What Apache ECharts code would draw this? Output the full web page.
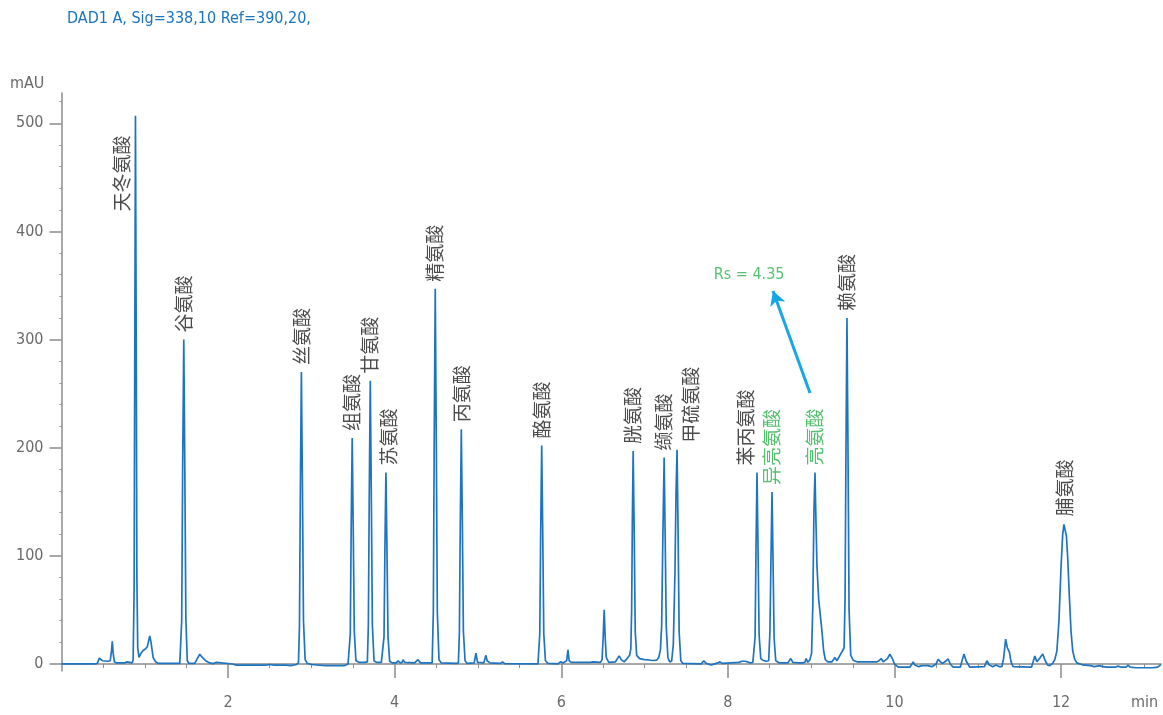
<!DOCTYPE html>
<html>
<head>
<meta charset="utf-8">
<script src="https://cdn.jsdelivr.net/npm/echarts@6.0.0/dist/echarts.min.js"></script>
<style>
  html, body { margin: 0; padding: 0; background: #ffffff; }
  #chart { width: 1163px; height: 715px; }
</style>
</head>
<body>
<div id="chart"></div>
<script>
// Detector trace: [retention time (min), absorbance (mAU)]
const signal = [
  [0.00, 0], [0.40, 0], [0.43, 0.5], [0.455, 5.5], [0.47, 4], [0.49, 3], [0.56, 2.5], [0.585, 3],
  [0.60, 12], [0.61, 21], [0.62, 10], [0.635, 2], [0.66, 1], [0.76, 1], [0.785, 2], [0.80, 1], [0.85, 1],
  [0.86, 4], [0.872, 70], [0.88, 300], [0.888, 507], [0.897, 300], [0.905, 80], [0.915, 15], [0.93, 6],
  [0.955, 10], [0.98, 12.5], [1.01, 14], [1.03, 16], [1.045, 21], [1.06, 26], [1.075, 20], [1.10, 6],
  [1.13, 2], [1.16, 0.5], [1.38, 0.5], [1.40, 2], [1.42, 0.5],
  [1.43, 0.5], [1.443, 40], [1.455, 185], [1.468, 300], [1.48, 185], [1.493, 42], [1.51, 3], [1.53, 0.5],
  [1.60, 0.5], [1.63, 5], [1.66, 9], [1.69, 6], [1.73, 3], [1.78, 1], [1.82, 0.3], [1.86, 1.5], [1.88, 0.3],
  [2.05, 0], [2.10, -1], [2.45, -1], [2.50, -0.5], [2.55, -1], [2.70, -1], [2.75, -1.5], [2.82, -0.5],
  [2.845, 1], [2.857, 36], [2.868, 165], [2.88, 270], [2.892, 168], [2.905, 40], [2.925, 4], [2.95, 0.5],
  [3.0, -0.5], [3.17, -1.5], [3.40, -1.5], [3.44, 0],
  [3.455, 1], [3.467, 28], [3.478, 128], [3.49, 209], [3.502, 128], [3.515, 30], [3.535, 3], [3.57, 1.5], [3.64, 1.5],
  [3.672, 2], [3.684, 36], [3.695, 160], [3.707, 262], [3.719, 160], [3.732, 36], [3.752, 3], [3.78, 1.5], [3.84, 1.5],
  [3.86, 2], [3.872, 25], [3.883, 108], [3.895, 177], [3.907, 108], [3.92, 25], [3.94, 2.5], [3.97, 1],
  [4.02, 1], [4.04, 3], [4.065, 1], [4.09, 1.5], [4.10, 4], [4.12, 1.5], [4.24, 1], [4.28, 4], [4.31, 1], [4.45, 1],
  [4.452, 2], [4.464, 48], [4.475, 212], [4.487, 347], [4.499, 212], [4.512, 48], [4.532, 4], [4.56, 1], [4.74, 0.5],
  [4.765, 1], [4.777, 30], [4.788, 133], [4.80, 217], [4.812, 133], [4.825, 30], [4.845, 3], [4.87, 0.5],
  [4.955, 1], [4.975, 10], [4.995, 1.5], [5.07, 1], [5.095, 8], [5.11, 3], [5.13, 2], [5.145, 1],
  [5.27, 0.5], [5.295, 2], [5.32, 0.3], [5.72, 0],
  [5.73, 1], [5.742, 28], [5.753, 124], [5.765, 202], [5.777, 124], [5.79, 28], [5.81, 3], [5.84, 0.5],
  [5.96, 0], [5.99, 2], [6.02, 1], [6.065, 3], [6.08, 13], [6.095, 3], [6.12, 1.5], [6.35, 1.5], [6.38, 2], [6.47, 1.5],
  [6.49, 4], [6.503, 25], [6.515, 50], [6.527, 25], [6.54, 6], [6.57, 1.5], [6.65, 2], [6.695, 7.5], [6.72, 4],
  [6.755, 2], [6.79, 5], [6.82, 8],
  [6.835, 14], [6.845, 50], [6.853, 130], [6.863, 197], [6.875, 125], [6.888, 30], [6.905, 8], [6.94, 5],
  [7.0, 4], [7.05, 3.7], [7.10, 3.2], [7.145, 3.5], [7.17, 6],
  [7.19, 13], [7.205, 35], [7.22, 120], [7.235, 191], [7.247, 120], [7.26, 35], [7.28, 6], [7.30, 2],
  [7.325, 2.5], [7.345, 18], [7.365, 85], [7.378, 160], [7.39, 198], [7.402, 125], [7.415, 30], [7.435, 3],
  [7.46, 0.5], [7.68, 0], [7.71, 3], [7.74, 0.5], [7.80, -1], [7.88, 1], [7.905, 2], [7.93, 0.5],
  [8.13, 1.5], [8.17, 2.5], [8.21, 2.5], [8.27, 1], [8.30, 1.5],
  [8.315, 2.5], [8.327, 25], [8.338, 108], [8.35, 177], [8.362, 108], [8.375, 27], [8.395, 5], [8.42, 3.5], [8.455, 2.5],
  [8.49, 3], [8.505, 30], [8.518, 100], [8.53, 159], [8.542, 97], [8.555, 24], [8.575, 3], [8.62, 1],
  [8.72, 1], [8.755, 5], [8.78, 1.5], [8.85, 1], [8.87, 2], [8.89, 1], [8.925, 1.5], [8.94, 5], [8.96, 1.5], [8.985, 4],
  [9.005, 10], [9.02, 55], [9.033, 140], [9.046, 177], [9.058, 130], [9.07, 90], [9.09, 60], [9.11, 45],
  [9.13, 30], [9.15, 12], [9.17, 4], [9.20, 2], [9.25, 2], [9.285, 6], [9.31, 3], [9.33, 2], [9.36, 10], [9.375, 12],
  [9.395, 15], [9.407, 60], [9.418, 200], [9.43, 320], [9.442, 200], [9.455, 50], [9.475, 8], [9.505, 3.5],
  [9.55, 2], [9.79, 2], [9.815, 3], [9.84, 5], [9.865, 2], [9.885, 1], [9.915, 5], [9.945, 9], [9.975, 5],
  [10.0, 0], [10.045, -3], [10.185, -3], [10.21, 0], [10.225, 2], [10.245, -1], [10.29, -2.5], [10.33, -1.5],
  [10.40, -1.5], [10.45, -2.5], [10.50, 0], [10.525, 4.3], [10.55, 2], [10.58, 0.5], [10.62, 3], [10.645, 4.6],
  [10.67, 0], [10.705, -3], [10.79, -3], [10.815, 4], [10.835, 9.2], [10.86, 3], [10.905, -3], [11.08, -2.5],
  [11.11, 3], [11.14, -1], [11.18, -2.5], [11.22, -1], [11.235, 0], [11.26, -2.5], [11.29, -2.5], [11.31, 5],
  [11.335, 23], [11.355, 15], [11.38, 11], [11.40, 2], [11.425, -2.5], [11.645, -3], [11.665, 2], [11.685, 7.4],
  [11.71, 2], [11.725, 1], [11.75, 6], [11.78, 9.2], [11.81, 3], [11.84, -1], [11.865, -1.5], [11.90, 0.5], [11.925, 4],
  [11.95, 12], [11.975, 40], [12.0, 90], [12.02, 120], [12.035, 129], [12.05, 128], [12.065, 118], [12.08, 98],
  [12.10, 62], [12.12, 30], [12.14, 12], [12.165, 4], [12.19, 1], [12.265, -1], [12.30, -1], [12.35, -1.5], [12.40, -2.5],
  [12.465, -1.5], [12.50, -2.5], [12.55, -3], [12.65, -3], [12.685, -2], [12.72, -3], [12.78, -3], [12.805, -1],
  [12.83, -3], [12.90, -3.5], [13.10, -3.5], [13.16, -3], [13.19, -1], [13.2, -0.5]
];

// Identified amino acid peaks
const peakNames   = ['天冬氨酸', '谷氨酸', '丝氨酸', '组氨酸', '甘氨酸', '苏氨酸', '精氨酸', '丙氨酸', '酪氨酸',
                     '胱氨酸', '缬氨酸', '甲硫氨酸', '苯丙氨酸', '异亮氨酸', '亮氨酸', '赖氨酸', '脯氨酸'];
const peakTimes   = [0.888, 1.468, 2.88, 3.49, 3.707, 3.895, 4.487, 4.80, 5.765,
                     6.863, 7.235, 7.39, 8.35, 8.53, 9.046, 9.43, 12.04];
const peakHeights = [507, 300, 270, 209, 262, 177, 347, 217, 202,
                     197, 191, 198, 177, 159, 177, 320, 130];

// Critical pair and its resolution
const criticalPair = ['异亮氨酸', '亮氨酸'];
const resolution = 4.35;

// Axis ticks
const xMajorTicks = [2, 4, 6, 8, 10, 12];
const xMinorTicks = [0.5, 1, 1.5, 2.5, 3, 3.5, 4.5, 5, 5.5, 6.5, 7, 7.5, 8.5, 9, 9.5, 10.5, 11, 11.5, 12.5, 13];
const yMajorTicks = [0, 100, 200, 300, 400, 500];
const yMinorTicks = [20, 40, 60, 80, 120, 140, 160, 180, 220, 240, 260, 280, 320, 340, 360, 380,
                     420, 440, 460, 480, 520];

// Label anchors that sit beside their peak instead of straight above it
const labelAnchorOverride = {
  '天冬氨酸': [0.726, 412],
  '苏氨酸':   [3.93, 177],
  '甲硫氨酸': [7.558, 198],
  '苯丙氨酸': [8.218, 177]
};
// Resolution annotation: arrow tail, arrow head, text anchor (data units)
const rsArrow = [[8.986, 250.6], [8.542, 344.9]];
const rsTextAt = [8.255, 360];

const LATIN = "'Liberation Sans Narrow', 'DejaVu Sans Condensed', 'Roboto', sans-serif";
const CJK = "'Noto Sans CJK SC', sans-serif";
const AXIS_GREY = '#8c8c8c';
const TEXT_GREY = '#6a6a6a';
const TRACE_BLUE = '#1f74c0';
const GREEN = '#2bb24c';

const labelData = peakNames.map((name, i) => {
  const pos = labelAnchorOverride[name] || [peakTimes[i], peakHeights[i]];
  return {
    value: [pos[0], pos[1]],
    name: name,
    label: { color: criticalPair.includes(name) ? GREEN : '#1e1e1e' }
  };
});

const chart = echarts.init(document.getElementById('chart'), null, { renderer: 'canvas' });

const option = {
  animation: false,
  backgroundColor: '#ffffff',
  title: {
    text: 'DAD1 A, Sig=338,10 Ref=390,20,',
    left: 67, top: 11, padding: 0,
    textStyle: { fontFamily: LATIN, fontSize: 16, fontWeight: 'normal', color: '#1b74bd' }
  },
  grid: { left: 61.5, right: 2, top: 93, bottom: 44, containLabel: false },
  xAxis: [
    {
      type: 'value', min: 0, max: 13.2, position: 'bottom',
      axisLine: { show: true, lineStyle: { color: AXIS_GREY, width: 1.5 } },
      axisTick: { show: true, customValues: xMajorTicks, length: 14, inside: false, lineStyle: { color: AXIS_GREY, width: 1.5 } },
      axisLabel: { show: true, customValues: xMajorTicks, margin: 24, fontFamily: LATIN, fontSize: 16, color: TEXT_GREY },
      splitLine: { show: false }
    },
    {
      type: 'value', min: 0, max: 13.2, position: 'bottom', offset: 0,
      axisLine: { show: false },
      axisTick: { show: true, customValues: xMinorTicks, length: 4, lineStyle: { color: AXIS_GREY, width: 1 } },
      axisLabel: { show: false },
      splitLine: { show: false }
    }
  ],
  yAxis: [
    {
      type: 'value', min: -6.5, max: 528, position: 'left',
      axisLine: { show: true, lineStyle: { color: AXIS_GREY, width: 1.5 } },
      axisTick: { show: true, customValues: yMajorTicks, length: 12, lineStyle: { color: AXIS_GREY, width: 1.5 } },
      axisLabel: { show: true, customValues: yMajorTicks, margin: 18, fontFamily: LATIN, fontSize: 16, color: TEXT_GREY },
      splitLine: { show: false }
    },
    {
      type: 'value', min: -6.5, max: 528, position: 'left', offset: 0,
      axisLine: { show: false },
      axisTick: { show: true, customValues: yMinorTicks, length: 2, lineStyle: { color: AXIS_GREY, width: 1 } },
      axisLabel: { show: false },
      splitLine: { show: false }
    }
  ],
  graphic: [
    { type: 'text', left: 10, top: 76, style: { text: 'mAU', font: "16px " + LATIN, fill: TEXT_GREY } },
    { type: 'text', left: 1131, top: 695, style: { text: 'min', font: "16px " + LATIN, fill: TEXT_GREY } }
  ],
  series: [
    {
      name: 'DAD1 A',
      type: 'line',
      xAxisIndex: 0, yAxisIndex: 0,
      data: signal,
      showSymbol: false,
      symbol: 'none',
      clip: true,
      lineStyle: { color: TRACE_BLUE, width: 1.7 },
      markLine: {
        silent: true,
        symbol: ['none', 'arrow'],
        symbolSize: [12, 14],
        label: { show: false },
        lineStyle: { color: '#18a6e6', width: 3, type: 'solid' },
        data: [[{ coord: rsArrow[0] }, { coord: rsArrow[1] }]]
      }
    },
    {
      name: 'peak labels',
      type: 'scatter',
      xAxisIndex: 0, yAxisIndex: 0,
      symbolSize: 0,
      silent: true,
      data: labelData,
      label: {
        show: true,
        position: 'top',
        distance: 7,
        rotate: 90,
        align: 'left',
        verticalAlign: 'middle',
        formatter: p => p.name,
        fontFamily: CJK,
        fontSize: 19
      }
    },
    {
      name: 'Rs',
      type: 'scatter',
      xAxisIndex: 0, yAxisIndex: 0,
      symbolSize: 0,
      silent: true,
      data: [{ value: rsTextAt, name: 'Rs = ' + resolution.toFixed(2) }],
      label: {
        show: true,
        position: 'inside',
        formatter: p => p.name,
        fontFamily: LATIN,
        fontSize: 16,
        color: GREEN
      }
    }
  ]
};

chart.setOption(option);
</script>
</body>
</html>
